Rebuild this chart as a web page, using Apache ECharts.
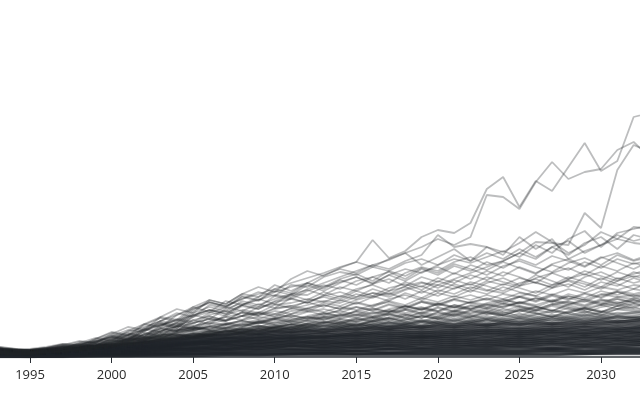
<!DOCTYPE html>
<html>
<head>
<meta charset="utf-8">
<script src="https://cdn.jsdelivr.net/npm/echarts@6/dist/echarts.min.js"></script>
<style>html,body{margin:0;padding:0;background:#fff}#c{width:640px;height:400px}</style>
</head>
<body>
<div id="c"></div>
<script>
// annual years 1993 .. 2033
const years = [1993,1994,1995,1996,1997,1998,1999,2000,2001,2002,2003,2004,2005,2006,2007,2008,2009,2010,2011,2012,2013,2014,2015,2016,2017,2018,2019,2020,2021,2022,2023,2024,2025,2026,2027,2028,2029,2030,2031,2032,2033];
// every second year, used for the dense low trajectories
const coreYears = [1993,1995,1997,1999,2001,2003,2005,2007,2009,2011,2013,2015,2017,2019,2021,2023,2025,2027,2029,2031,2033];
const tickYears = [1995,2000,2005,2010,2015,2020,2025,2030];

// ---- highest trajectories ----
const lineA = [8,6,7,8,10,13,16,20,25,30, 36,42,48,54,51,58,63,68,74,79, 84,90,95,117,99,106,120,127,124,134, 168,180,150,176,166,190,214,186,196,240, 244];
const lineB = [7,6,6,7,9,12,15,18,22,27, 32,37,42,47,45,52,57,62,60,68, 74,80,86,92,97,104,110,118,112,120, 162,160,148,175,195,178,185,188,207,215, 200];
const lineC = [6,5,5,6,8,10,12,15,18,22, 26,30,34,38,36,41,45,43,48,52, 56,54,60,64,62,68,74,72,78,84, 90,96,104,115,114,112,144,129,187,212, 205];
// ---- upper trajectories ----
const lineD = [9,7,7,8,11,15,14,21,27,25, 36,44,40,52,49,60,56,68,64,74, 82,88,84,92,88,96,102,122,110,113, 110,105,114,125,115,104,112,125,118,130, 128];
const lineE = [10,8,8,10,13,12,18,25,22,33, 40,37,50,57,53,63,70,65,78,86, 81,89,95,90,98,104,92,100,108,96, 110,102,120,108,118,98,106,112,122,116, 120];
const lineF = [7,6,6,8,11,9,15,21,18,27, 34,31,42,47,43,52,58,53,63,62, 70,75,80,74,82,88,84,92,98,94, 100,106,100,112,104,118,126,110,124,128, 132];
const lineG = [6,5,6,8,7,12,16,14,22,28, 25,35,42,38,48,54,50,61,58,66, 72,68,76,80,74,84,90,86,95,100, 92,96,104,98,110,102,114,120,108,122, 118];
const lineH = [8,6,7,9,12,10,17,22,19,29, 36,33,46,55,51,58,65,61,72,70, 80,85,82,90,86,94,98,92,102,96, 104,98,108,100,110,116,104,112,118,114, 112];
// ---- upper-middle trajectories ----
const lineU1 = [7,5,6,8,10,9,15,20,17,28, 34,31,44,50,46,56,52,58,63,67, 62,70,66,73,78,71,80,75,84,78, 86,81,90,84,92,87,95,89,98,93, 97];
const lineU2 = [6,5,5,7,10,8,14,19,16,26, 32,29,40,45,41,51,48,56,62,57, 65,60,68,72,66,75,70,79,74,82, 77,85,80,74,84,89,82,91,86,94, 90];
const lineU3 = [8,6,7,9,13,11,18,24,21,32, 39,35,48,55,50,61,57,65,70,74, 68,77,72,80,85,78,88,82,91,86, 95,89,98,92,101,96,90,99,104,97, 102];
const lineU4 = [5,4,5,7,6,11,14,12,19,24, 21,31,37,33,42,47,44,52,54,58, 55,61,58,64,60,67,71,65,73,68, 76,72,79,74,70,78,83,77,85,80, 84];
const lineU5 = [7,5,6,8,11,9,16,20,17,26, 33,29,41,47,43,52,48,55,58,54, 61,65,60,68,63,71,75,69,77,72, 80,75,71,79,84,78,86,81,76,85, 81];
const lineU6 = [6,4,5,7,9,13,11,18,23,20, 31,37,33,42,46,41,50,53,49,56, 60,56,63,59,66,70,64,72,68,75, 71,66,74,78,72,80,75,70,79,74, 78];
const lineU7 = [8,6,7,9,8,14,19,16,26,33, 30,42,50,45,56,52,60,66,62,72, 66,74,80,73,82,76,85,90,83,92, 87,95,89,83,93,98,91,100,94,88, 96];
const lineU8 = [5,4,4,6,8,7,13,17,14,23, 29,26,37,41,36,45,42,48,51,48, 54,51,57,61,56,64,59,67,63,70, 66,73,69,64,72,76,70,79,73,68, 75];
const lineU9 = [7,5,6,7,10,13,11,19,24,21, 32,38,35,44,50,46,53,49,59,54, 62,58,66,61,69,73,67,76,71,65, 74,79,72,82,76,70,80,85,78,83, 88];
const lineU10 = [6,5,5,6,9,11,10,16,21,18, 28,33,29,40,37,45,42,49,51,55, 50,57,53,60,64,58,66,61,69,73, 67,64,71,75,69,77,73,68,76,81, 77];
const lineU11 = [9,7,7,9,12,16,14,23,30,27, 40,48,44,57,53,63,60,72,66,74, 70,78,83,76,86,81,89,84,93,88, 82,91,96,90,85,94,99,92,102,96, 100];
const lineU12 = [5,4,5,6,8,11,9,15,19,16, 26,31,28,36,40,37,44,41,49,46, 52,48,55,51,58,62,57,64,60,67, 63,70,65,61,69,73,67,75,71,79, 74];
// ---- middle trajectories ----
const lineM1 = [6,4,5,6,9,8,13,17,15,23, 28,26,34,38,36,41,44,40,46,48, 45,50,47,52,55,50,56,53,58,62, 57,63,60,66,62,68,64,70,67,72, 70];
const lineM2 = [5,4,4,5,7,9,11,14,17,20, 24,27,30,28,33,36,34,39,42,38, 43,46,42,48,45,51,48,54,50,55, 58,53,60,56,62,58,64,60,66,63, 67];
const lineM3 = [7,5,5,7,10,12,11,17,22,20, 29,34,31,35,40,44,41,46,43,49, 52,48,54,50,56,52,59,55,61,57, 62,58,64,61,56,63,59,66,62,68, 65];
const lineM4 = [4,3,4,5,6,8,10,12,15,18, 21,24,27,30,28,32,35,33,37,40, 38,42,45,41,47,44,49,46,52,48, 53,50,55,52,57,54,50,56,58,54, 57];
const lineM5 = [6,4,5,7,6,10,13,11,18,22, 25,28,26,31,34,32,36,39,37,41, 44,40,46,43,48,51,47,53,49,55, 52,57,54,59,55,61,57,53,60,62, 59];
const lineM6 = [5,3,4,5,7,9,11,13,16,19, 22,26,29,27,32,30,35,38,35,40, 37,42,39,44,46,42,48,45,50,47, 52,49,55,51,46,53,56,52,58,55, 60];
const lineM7 = [6,5,5,6,8,10,9,14,18,16, 23,22,27,30,33,31,34,37,35,38, 41,39,43,40,45,48,44,50,46,52, 49,54,51,47,53,56,52,58,54,57, 55];
const lineM8 = [4,3,3,4,6,8,10,12,14,17, 20,23,21,26,29,27,31,29,33,36, 34,38,36,40,43,39,45,42,47,44, 49,46,51,48,53,50,47,52,55,51, 54];
const lineM9 = [5,4,4,5,6,9,12,10,16,20, 18,25,28,31,29,34,37,34,39,36, 40,43,41,45,42,47,50,46,52,49, 45,51,54,50,56,52,58,54,51,57, 53];
const lineM10 = [3,3,3,4,5,7,9,11,13,15, 18,21,24,22,26,29,27,30,33,31, 35,33,37,40,38,42,39,44,41,46, 43,48,45,50,47,44,49,52,48,53, 50];
const lineM11 = [6,4,5,6,8,9,11,14,17,20, 24,27,31,34,32,37,40,38,43,46, 42,47,50,46,52,48,55,51,57,54, 59,55,61,57,63,59,55,62,65,60, 63];
const lineM12 = [4,3,4,4,6,7,9,11,13,16, 19,22,20,24,27,25,29,32,30,33, 36,34,38,35,40,43,39,45,42,47, 44,41,47,50,46,52,48,45,51,54, 52];
const lineM13 = [5,4,4,6,8,11,10,16,20,18, 26,31,28,33,37,41,38,43,40,45, 48,44,50,47,53,49,55,52,58,54, 50,56,60,55,61,57,63,59,65,61, 66];
const lineM14 = [3,2,3,4,5,6,8,10,12,14, 17,20,23,21,25,28,26,30,28,32, 35,33,31,36,39,37,41,38,43,40, 45,42,47,44,40,46,49,45,51,48, 47];
const lineM15 = [6,5,5,6,7,9,11,13,16,19, 22,26,30,28,33,36,33,38,41,39, 44,41,46,49,45,51,47,53,50,48, 54,58,53,59,55,61,57,63,60,58, 62];
const lineM16 = [4,3,3,4,5,7,9,11,14,17, 20,19,23,26,24,28,31,29,33,30, 34,37,35,39,36,41,44,40,46,43, 47,44,49,46,51,48,44,50,53,49, 55];
const lineM17 = [5,4,4,5,6,8,10,12,15,18, 21,24,27,25,29,33,30,35,32,37, 40,38,42,39,44,47,43,49,45,51, 48,53,50,46,52,55,51,57,53,59, 56];
const lineM18 = [4,3,4,5,6,8,10,12,14,16, 19,22,20,23,26,24,28,26,30,33, 31,35,32,36,39,35,41,38,43,39, 42,45,41,47,44,49,46,42,48,50, 46];
// ---- dense low trajectories (every second year) ----
const lineL01 = [10,6,9,12,17,20,29,24,35,28,39,31,43,35,45,38,47,40,49,42,47];
const lineL02 = [8,6,7,11,13,22,21,30,25,36,29,39,33,42,36,45,39,46,41,48,44];
const lineL03 = [9,5,8,10,15,17,25,23,31,27,34,30,38,32,41,35,43,37,45,39,42];
const lineL04 = [8,6,8,9,12,19,20,27,26,32,28,35,31,37,33,40,36,42,38,44,43];
const lineL05 = [7,5,7,11,14,16,23,22,29,27,32,29,35,31,38,33,40,35,42,37,40];
const lineL06 = [8,6,6,9,12,18,19,26,24,30,27,33,30,36,32,38,34,40,36,41,39];
const lineL07 = [7,5,7,10,13,15,22,21,28,25,31,27,34,29,36,31,38,33,39,35,38];
const lineL08 = [7,5,6,8,11,17,18,25,23,29,25,32,28,35,30,37,32,38,34,40,37];
const lineL09 = [6,4,7,8,13,15,21,22,26,25,28,28,31,30,33,32,35,33,36,35,38];
const lineL10 = [7,5,6,9,11,17,19,23,23,27,25,29,28,31,30,33,32,34,33,36,35];
const lineL11 = [6,4,6,8,12,14,20,20,25,24,27,26,30,28,31,30,33,31,34,33,36];
const lineL12 = [6,5,5,9,10,16,17,22,22,25,24,27,27,29,28,31,29,32,31,34,32];
const lineL13 = [6,4,6,7,11,13,19,19,23,22,25,24,28,26,29,28,30,29,32,31,33];
const lineL14 = [5,4,5,8,9,15,16,20,20,24,22,25,25,27,26,29,27,30,29,31,30];
const lineL15 = [6,3,5,7,10,12,18,18,22,21,23,22,26,24,27,26,28,27,30,28,31];
const lineL16 = [5,4,4,8,9,14,15,19,19,22,20,24,23,25,24,27,25,28,27,29,28];
const lineL17 = [5,3,5,6,10,11,16,16,20,19,21,21,24,22,25,24,26,25,27,26,29];
const lineL18 = [4,3,4,7,8,13,14,18,17,20,19,22,21,23,22,25,23,26,24,27,25];
const lineL19 = [5,3,4,6,9,10,15,15,19,18,20,19,22,20,23,22,24,23,25,24,26];
const lineL20 = [4,3,4,6,8,12,13,16,16,19,17,20,19,21,20,23,21,24,22,25,23];
const lineL21 = [5,2,4,5,8,10,14,14,17,16,18,17,20,19,21,20,22,21,23,22,24];
const lineL22 = [4,3,3,6,7,11,12,15,14,17,15,18,17,20,18,20,19,21,20,22,21];
const lineL23 = [4,2,4,5,8,9,13,13,16,14,16,15,18,17,19,17,20,18,21,19,22];
const lineL24 = [3,3,3,6,6,10,11,13,13,16,13,16,15,18,16,18,17,19,18,20,19];
const lineL25 = [4,2,3,4,7,8,12,11,14,13,15,13,16,15,17,15,18,16,19,17,19];
const lineL26 = [3,2,2,5,6,9,9,12,11,14,12,15,13,16,14,16,15,17,16,18,16];
const lineL27 = [3,2,3,4,6,7,10,9,13,11,13,12,14,13,15,13,16,14,16,15,17];
const lineL28 = [2,2,2,4,5,8,8,11,10,12,10,13,11,14,12,14,13,15,13,16,14];
const lineL29 = [3,1,2,4,5,6,9,8,11,10,11,10,12,11,13,11,14,12,14,13,15];
const lineL30 = [2,2,2,3,5,7,7,9,8,11,9,11,9,12,10,12,11,13,11,13,12];
const lineL31 = [2,1,2,3,4,6,8,7,10,8,9,9,11,9,11,10,12,10,12,11,13];
const lineL32 = [2,1,2,3,4,5,6,7,8,8,7,9,8,9,9,9,10,9,10,10,11];
const lineL33 = [2,1,1,3,4,4,6,6,7,7,7,7,8,8,8,8,9,8,9,9,9];
const lineL34 = [1,1,1,2,3,4,5,5,6,6,6,6,7,7,7,7,7,8,7,8,8];
const lineL35 = [1,1,1,2,3,3,4,4,5,5,5,6,5,6,6,6,6,7,6,7,7];
const lineL36 = [1,1,1,2,2,3,3,4,4,4,4,5,4,5,5,5,5,6,5,6,6];
const lineL37 = [1,0,1,1,2,2,3,3,3,3,4,3,4,4,4,4,4,5,4,5,5];
const lineL38 = [0,0,1,1,1,2,2,2,2,3,3,3,3,3,3,3,3,3,3,4,4];
const lineL39 = [0,0,0,1,1,1,1,2,2,2,2,2,2,2,2,2,2,2,3,3,3];

const annualLines = [lineA,lineB,lineC,lineD,lineE,lineF,lineG,lineH,
  lineU1,lineU2,lineU3,lineU4,lineU5,lineU6,lineU7,lineU8,lineU9,lineU10,lineU11,lineU12,
  lineM1,lineM2,lineM3,lineM4,lineM5,lineM6,lineM7,lineM8,lineM9,lineM10,lineM11,lineM12,lineM13,lineM14,lineM15,lineM16,lineM17,lineM18];
const coreLines = [lineL01,lineL02,lineL03,lineL04,lineL05,lineL06,lineL07,lineL08,lineL09,lineL10,
  lineL11,lineL12,lineL13,lineL14,lineL15,lineL16,lineL17,lineL18,lineL19,lineL20,
  lineL21,lineL22,lineL23,lineL24,lineL25,lineL26,lineL27,lineL28,lineL29,lineL30,
  lineL31,lineL32,lineL33,lineL34,lineL35,lineL36,lineL37,lineL38,lineL39];

function mk(xs, vals, alpha, width) {
  return {
    type: 'line',
    data: xs.map((y, i) => [y, vals[i]]),
    showSymbol: false,
    silent: true,
    clip: true,
    lineStyle: {color: 'rgba(32,36,41,' + alpha + ')', width: width},
    emphasis: {disabled: true}
  };
}

// opacity graded from the top of the dense band downward
function coreAlpha(i) { return i < 4 ? 0.35 : (i < 8 ? 0.45 : (i < 14 ? 0.55 : 0.7)); }

const series = []
  .concat(coreLines.map((v, i) => mk(coreYears, v, coreAlpha(i), 2.6)))
  .concat(annualLines.map(v => mk(years, v, 0.3, 1.8)));

const chart = echarts.init(document.getElementById('c'), null, {renderer: 'canvas'});
chart.setOption({
  animation: false,
  backgroundColor: '#ffffff',
  grid: {left: 0, right: 0, top: 0, bottom: 43, containLabel: false},
  xAxis: {
    type: 'value',
    min: 1993.16,
    max: 2032.39,
    splitLine: {show: false},
    axisLine: {show: true, onZero: false, lineStyle: {color: '#2b3036', width: 1.5}},
    axisTick: {show: true, length: 6, customValues: tickYears, lineStyle: {color: '#2b3036', width: 1}},
    axisLabel: {show: true, customValues: tickYears, margin: 12, fontSize: 13, color: '#2a2a2a', fontFamily: 'Open Sans', formatter: v => String(v)}
  },
  yAxis: {type: 'value', min: 0, max: 357, show: false, splitLine: {show: false}},
  series: series
});
</script>
</body>
</html>
